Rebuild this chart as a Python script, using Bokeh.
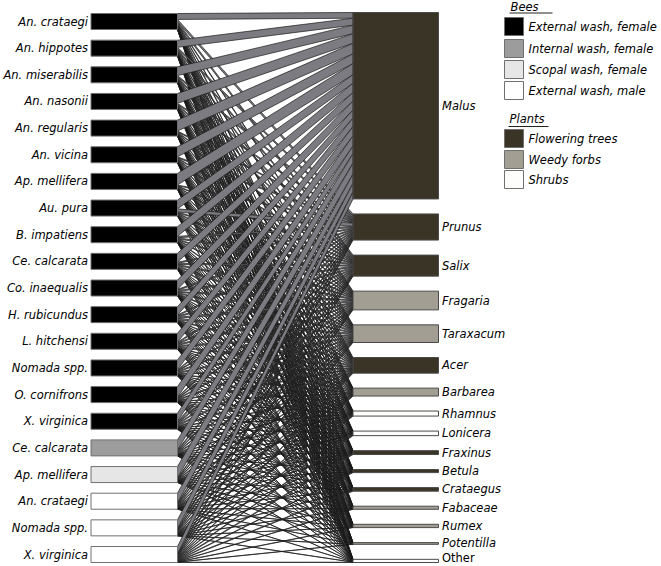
import numpy as np
from bokeh.plotting import figure
from bokeh.models import Range1d
from bokeh.core.properties import value
from bokeh.embed import file_html
from bokeh.resources import INLINE

# ---------------- data ----------------
bees = ["An. crataegi", "An. hippotes", "An. miserabilis", "An. nasonii", "An. regularis",
        "An. vicina", "Ap. mellifera", "Au. pura", "B. impatiens", "Ce. calcarata",
        "Co. inaequalis", "H. rubicundus", "L. hitchensi", "Nomada spp.", "O. cornifrons",
        "X. virginica", "Ce. calcarata", "Ap. mellifera", "An. crataegi", "Nomada spp.",
        "X. virginica"]
bee_group = ["ext_f"] * 16 + ["int_f", "scopal_f", "ext_m", "ext_m", "ext_m"]

plants = ["Malus", "Prunus", "Salix", "Fragaria", "Taraxacum", "Acer", "Barbarea", "Rhamnus",
          "Lonicera", "Fraxinus", "Betula", "Crataegus", "Fabaceae", "Rumex", "Potentilla", "Other"]
plant_group = ["tree", "tree", "tree", "forb", "forb", "tree", "forb", "shrub",
               "shrub", "tree", "tree", "tree", "forb", "forb", "forb", "shrub"]

# percent of each bee's pollen load (one value per bee, in bee order)
malus      = [37, 45, 55, 62, 68, 63, 72, 55, 60, 55, 58, 52, 55, 60, 65, 50, 62, 70, 60, 55, 46]
prunus     = [15, 11, 9, 7, 6, 7, 5, 20, 9, 7, 7, 7, 7, 6, 5, 9, 7, 5, 6, 8, 6]
salix      = [12, 9.5, 7.5, 6.5, 5.5, 5.5, 4.5, 6, 7.5, 7.5, 7.5, 7.5, 6.5, 5.5, 5.5, 7.5, 5.5, 4.5, 5, 5, 4]
fragaria   = [6, 7.5, 5.5, 4.5, 4.5, 5.5, 3.5, 5, 5.5, 7.5, 6.5, 8.5, 7.5, 6.5, 5.5, 7.5, 5.5, 3.5, 5, 5, 5]
taraxacum  = [5, 5.5, 5.5, 4.5, 3.5, 4.5, 3.5, 4, 5.5, 7.5, 5.5, 8.5, 7.5, 6.5, 5.5, 7.5, 5.5, 3.5, 5, 5, 5]
acer       = [8, 6.5, 5.5, 4.5, 3.5, 4.5, 3.5, 4, 4.5, 5.5, 5.5, 5.5, 5.5, 4.5, 3.5, 5.5, 4.5, 3.5, 4, 5, 4]
barbarea   = [3, 3, 2, 2, 2, 2, 2, 2, 2, 2, 2, 3, 3, 3, 2, 3, 2, 2, 3, 3, 3]
rhamnus    = [2, 2, 2, 1.5, 1, 1, 1, 1, 1, 1, 1, 1, 1, 1, 1, 2, 1, 1, 3, 3, 4]
lonicera   = [2, 2, 1, 1, 1, 1, 0.5, 1, 1, 1, 1, 1, 1, 1, 1, 1, 1, 1, 3, 3, 4]
fraxinus   = [2, 1, 1, 1, 0.5, 1, 0.5, 0.5, 0.5, 1, 1, 1, 1, 1, 1, 1, 1, 1, 1, 2, 5]
betula     = [2, 1.25, 1.25, 0.75, 0.75, 0.75, 0.25, 0.5, 0.25, 0.75, 0.75, 0.75, 0.75, 0.75, 0.75, 1.25, 0.75, 0.75, 1, 1, 3]
crataegus  = [2, 1.25, 1.25, 1.25, 0.75, 0.75, 0.75, 0.5, 0.25, 0.75, 0.75, 0.75, 0.75, 0.75, 0.75, 1.25, 0.75, 0.75, 1, 2, 4]
fabaceae   = [1, 1.5, 1, 1, 0.5, 1, 0.5, 0, 0.5, 1, 1, 1, 1, 1, 1, 1, 1, 1, 1, 1, 2]
rumex      = [1, 1, 1, 1, 1, 1, 1, 0.5, 1, 1, 1, 1, 1, 1, 1, 1, 1, 1, 1, 1, 2]
potentilla = [1, 0.5, 0.5, 0.5, 0.5, 0.5, 0.5, 0, 0.5, 0.5, 0.5, 0.5, 0.5, 0.5, 0.5, 0.5, 0.5, 0.5, 0.5, 0.5, 1]
other      = [1, 1.5, 1, 1, 1, 1, 1, 0, 1, 1, 1, 1, 1, 1, 1, 1, 1, 1, 0.5, 0.5, 2]

bee_legend = ["External wash, female", "Internal wash, female", "Scopal wash, female", "External wash, male"]
plant_legend = ["Flowering trees", "Weedy forbs", "Shrubs"]

# ---------------- styling ----------------
BEE_COL = {"ext_f": "#000000", "int_f": "#9c9c9c", "scopal_f": "#e6e6e6", "ext_m": "#ffffff"}
PLANT_COL = {"tree": "#3a3426", "forb": "#a39e94", "shrub": "#fdfdfb"}
LINK_FILL = "#7b7b81"
LINK_LINE = "#1a1a1a"
FONT = value("DejaVu Sans")
FS = "11.5px"

W_PX, H_PX = 660, 565
BOX_H = 16.0
L_TOP, L_BOTTOM = 13.0, 562.0
R_TOP, R_BOTTOM = 12.0, 562.0
R_SCALE = 0.967
LX0, LX1 = 90.5, 177.0
RX0, RX1 = 352.5, 438.0

M = np.array([malus, prunus, salix, fragaria, taraxacum, acer, barbarea, rhamnus, lonicera,
              fraxinus, betula, crataegus, fabaceae, rumex, potentilla, other], dtype=float).T
nb, npl = M.shape
W = M / M.sum(axis=1, keepdims=True) * BOX_H
WR = W * R_SCALE

gap_l = (L_BOTTOM - L_TOP - nb * BOX_H) / (nb - 1)
bee_top = L_TOP + np.arange(nb) * (BOX_H + gap_l)

plant_h = WR.sum(axis=0)
gap_r = (R_BOTTOM - R_TOP - plant_h.sum()) / (npl - 1)
plant_top = np.zeros(npl)
acc = R_TOP
for j in range(npl):
    plant_top[j] = acc
    acc += plant_h[j] + gap_r

p = figure(width=W_PX, height=H_PX, x_range=Range1d(0, W_PX), y_range=Range1d(H_PX, 0),
           output_backend="svg", toolbar_location=None, min_border=0,
           background_fill_color="white", border_fill_color="white", outline_line_color=None)
p.xaxis.visible = False
p.yaxis.visible = False
p.grid.visible = False

# links
xs, ys = [], []
left_off = np.zeros(nb)
right_off = np.zeros(npl)
for i in range(nb):
    for j in range(npl):
        w = W[i, j]
        wr = WR[i, j]
        if w <= 0:
            continue
        yl0 = bee_top[i] + left_off[i]
        yr0 = plant_top[j] + right_off[j]
        left_off[i] += w
        right_off[j] += wr
        xs.append([LX1, LX1, RX0, RX0])
        ys.append([yl0, yl0 + w, yr0 + wr, yr0])
p.patches(xs, ys, fill_color=LINK_FILL, line_color=LINK_LINE, line_width=0.7)

# bee boxes
p.quad(left=[LX0] * nb, right=[LX1] * nb, top=list(bee_top), bottom=list(bee_top + BOX_H),
       fill_color=[BEE_COL[g] for g in bee_group], line_color="#707070", line_width=1)
p.text(x=[87.5] * nb, y=list(bee_top + BOX_H / 2), text=bees, text_align="right",
       text_baseline="middle", text_font=FONT, text_font_style="italic",
       text_font_size=FS, text_color="#000000")

# plant boxes
p.quad(left=[RX0] * npl, right=[RX1] * npl, top=list(plant_top), bottom=list(plant_top + plant_h),
       fill_color=[PLANT_COL[g] for g in plant_group], line_color="#4a4a4a", line_width=1)
styles = ["normal" if n == "Other" else "italic" for n in plants]
label_y = [min(v, 557.0) for v in (plant_top + plant_h / 2)]
p.text(x=[441.5] * npl, y=label_y, text=plants, text_align="left",
       text_baseline="middle", text_font=FONT, text_font_style=styles,
       text_font_size=FS, text_color="#000000")

# legend
def heading(label, y, x0, x1, uy):
    p.text(x=[x0 + 1], y=[y], text=[label], text_align="left", text_baseline="middle",
           text_font=FONT, text_font_style="italic", text_font_size=FS, text_color="#000000")
    p.line([x0, x1], [uy, uy], line_color="#222222", line_width=1)

heading("Bees", 6, 509, 552, 12.5)
ly = [17, 39, 60, 81]
p.quad(left=[504] * 4, right=[523] * 4, top=ly, bottom=[v + 18 for v in ly],
       fill_color=[BEE_COL[g] for g in ["ext_f", "int_f", "scopal_f", "ext_m"]],
       line_color="#707070", line_width=1)
p.text(x=[528] * 4, y=[v + 9 for v in ly], text=bee_legend, text_align="left",
       text_baseline="middle", text_font=FONT, text_font_style="italic",
       text_font_size=FS, text_color="#000000")

heading("Plants", 118, 508, 548, 126)
py = [129, 150, 170]
p.quad(left=[504] * 3, right=[523] * 3, top=py, bottom=[v + 18 for v in py],
       fill_color=[PLANT_COL[g] for g in ["tree", "forb", "shrub"]],
       line_color="#707070", line_width=1)
p.text(x=[528] * 3, y=[v + 9 for v in py], text=plant_legend, text_align="left",
       text_baseline="middle", text_font=FONT, text_font_style="italic",
       text_font_size=FS, text_color="#000000")

open("out.html", "w").write(file_html(p, INLINE))
